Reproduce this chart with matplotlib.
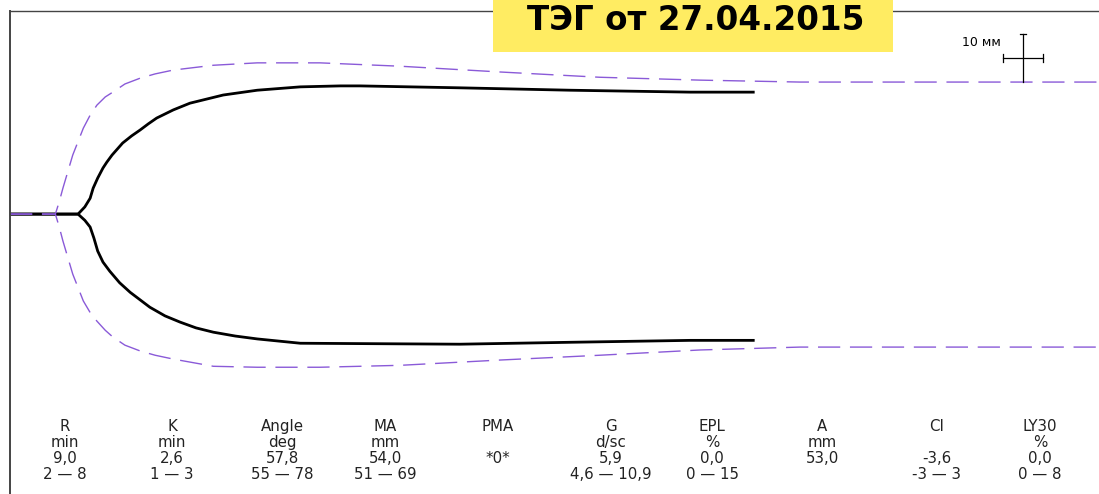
import numpy as np
import matplotlib.pyplot as plt
from matplotlib.patches import Rectangle

# TEG trace, x in minutes, y in mm (amplitude)
trace_t = [0.0, 9.0, 9.9, 10.6, 11.0, 11.6, 12.3, 12.8, 13.5, 14.9, 16.1, 17.2,
           18.3, 19.4, 21.6, 23.8, 28.2, 32.7, 38.4, 43.7, 46.3, 59.5, 74.1,
           90.0, 98.5]
trace_up = [0.0, 0.0, 1.5, 3.3, 5.4, 7.5, 9.6, 10.8, 12.3, 14.8, 16.3, 17.5,
            18.8, 20.0, 21.7, 23.1, 24.8, 25.8, 26.5, 26.7, 26.7, 26.3, 25.8,
            25.4, 25.4]
trace_lo_t = [0.0, 9.0, 9.9, 10.6, 11.1, 11.6, 12.3, 13.2, 14.5, 15.9, 18.5,
              20.5, 22.5, 24.6, 26.9, 29.8, 32.7, 38.4, 59.5, 74.1, 90.0, 98.5]
trace_lo = [0.0, 0.0, -1.3, -2.7, -5.0, -7.7, -10.0, -11.9, -14.3, -16.3, -19.4,
            -21.2, -22.5, -23.7, -24.6, -25.4, -26.0, -26.9, -27.1, -26.7, -26.3,
            -26.3]

# normal reference envelope (dashed)
ref_t = [0.0, 6.0, 6.5, 7.0, 8.3, 9.7, 10.6, 11.5, 12.6, 13.6, 15.2, 17.2, 19.2,
         21.6, 26.9, 32.7, 41.0, 51.6, 64.8, 78.0, 91.3, 104.5, 144.0]
ref_up = [0.0, 0.0, 2.5, 5.4, 12.3, 17.9, 20.6, 22.7, 24.4, 25.4, 27.1, 28.3,
          29.2, 30.0, 31.0, 31.5, 31.5, 30.8, 29.6, 28.5, 27.9, 27.5, 27.5]
ref_lo = [0.0, 0.0, -2.6, -5.6, -12.5, -18.1, -20.5, -22.3, -24.2, -25.6, -27.3,
          -28.5, -29.4, -30.2, -31.7, -31.9, -31.9, -31.5, -30.4, -29.4, -28.3,
          -27.7, -27.7]

# parameter table
param_names = ['R', 'K', 'Angle', 'MA', 'PMA', 'G', 'EPL', 'A', 'CI', 'LY30']
param_units = ['min', 'min', 'deg', 'mm', '', 'd/sc', '%', 'mm', '', '%']
param_values = ['9,0', '2,6', '57,8', '54,0', '*0*', '5,9', '0,0', '53,0', '-3,6', '0,0']
param_ranges = ['2 — 8', '1 — 3', '55 — 78', '51 — 69', '', '4,6 — 10,9', '0 — 15', '',
                '-3 — 3', '0 — 8']
param_x = [65, 172, 282, 385, 498, 611, 712, 822, 937, 1040]  # column centres, px

title = 'ТЭГ от 27.04.2015'

W, H = 1099, 494
fig = plt.figure(figsize=(W / 100, H / 100), dpi=100)
ax = fig.add_axes([10 / W, 0, 1 - 10 / W, (H - 11) / H])
ax.set_xlim(0, 144.05)
ax.set_ylim(-58.3, 42.3)
ax.set_xticks([])
ax.set_yticks([])
for s in ['right', 'bottom']:
    ax.spines[s].set_visible(False)
ax.spines['left'].set_color('#444444')
ax.spines['left'].set_linewidth(1.4)
ax.spines['top'].set_color('#444444')
ax.spines['top'].set_linewidth(1.0)

purple = '#8a5ad8'
ax.plot(trace_t, trace_up, color='black', lw=2.0, solid_capstyle='butt',
        solid_joinstyle='round')
ax.plot(trace_lo_t, trace_lo, color='black', lw=2.0, solid_capstyle='butt',
        solid_joinstyle='round')
for yy in (ref_up, ref_lo):
    ln, = ax.plot(ref_t, yy, color=purple, lw=1.0)
    ln.set_dashes((16, 7))

# 10 mm scale cross
cx, cy = 134.0, 32.5
ax.plot([cx, cx], [cy - 5, cy + 5], color='black', lw=0.9)
ax.plot([cx - 0.35, cx + 0.35], [cy + 5, cy + 5], color='black', lw=0.9)
ax.plot([cx - 2.65, cx + 2.65], [cy, cy], color='black', lw=0.9)
ax.plot([cx - 2.65, cx - 2.65], [cy - 0.8, cy + 0.8], color='black', lw=0.9)
ax.plot([cx + 2.65, cx + 2.65], [cy - 0.8, cy + 0.8], color='black', lw=0.9)
ax.text(cx - 2.9, cy + 3.3, '10 мм', fontsize=9, ha='right', va='center')

# title box
fig.patches.append(Rectangle((493 / W, 1 - 52 / H), 400 / W, 52 / H,
                             transform=fig.transFigure, facecolor='#ffec62',
                             edgecolor='none', zorder=5))
fig.text(696 / W, 1 - 20 / H, title, fontsize=23.5, fontweight='bold',
         ha='center', va='center', zorder=6)

# parameter table
rows_y = [426, 442, 458, 474]
for i, px in enumerate(param_x):
    for row, txt in zip(rows_y, [param_names[i], param_units[i],
                                  param_values[i], param_ranges[i]]):
        if txt:
            fig.text(px / W, 1 - row / H, txt, fontsize=10.8, color='#222222',
                     ha='center', va='center')

fig.savefig('out.png', dpi=100)
